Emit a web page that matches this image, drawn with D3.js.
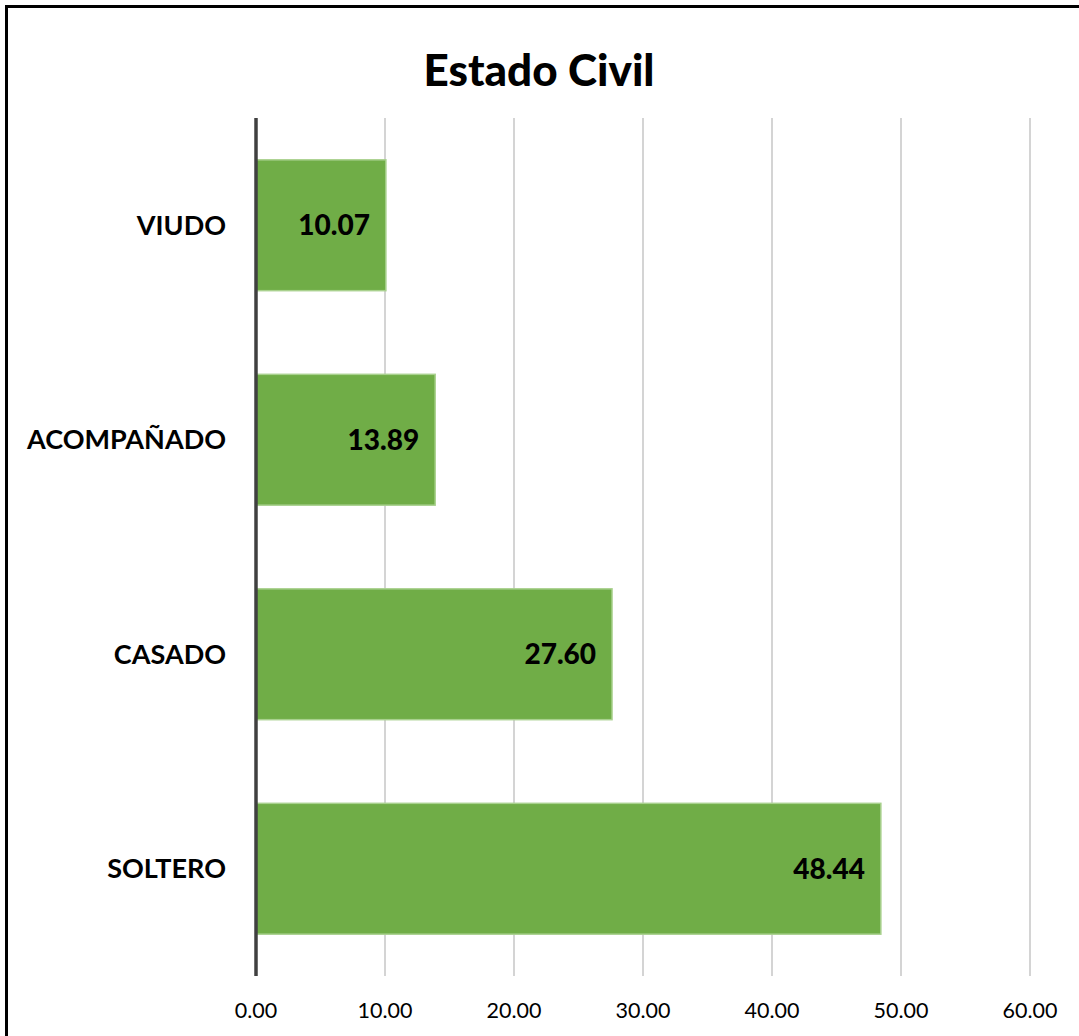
<!DOCTYPE html>
<html lang="es">
<head>
<meta charset="UTF-8">
<title>Estado Civil</title>
<script src="https://d3js.org/d3.v7.min.js"></script>
<style>
    body { margin: 0; background: white; font-family: Lato, "Open Sans", sans-serif; }
    svg { display: block; }
    .cat { font-size: 27px; font-weight: bold; fill: #000; }
    .val { font-size: 28px; font-weight: 900; fill: #000; }
    .tick-label { font-size: 21.5px; fill: #000; }
    .title { font-size: 44px; font-weight: 900; fill: #000; }
</style>
</head>
<body>
<svg width="1079" height="1036"></svg>
<script>
    // Chart data
    const categories = ["VIUDO", "ACOMPAÑADO", "CASADO", "SOLTERO"];
    const values = [10.07, 13.89, 27.60, 48.44];
    const xTicks = [0, 10, 20, 30, 40, 50, 60];

    const svg = d3.select("svg");
    const margin = { top: 118, left: 256, right: 49, bottom: 60 };
    const width = 1079 - margin.left - margin.right;
    const height = 976 - margin.top;

    // outer frame (runs past the right and bottom edges)
    svg.append("rect")
        .attr("x", 6.5).attr("y", 6.5)
        .attr("width", 1100).attr("height", 1100)
        .attr("fill", "none")
        .attr("stroke", "#000")
        .attr("stroke-width", 3);

    svg.append("text")
        .attr("class", "title")
        .attr("x", 539).attr("y", 86)
        .attr("text-anchor", "middle")
        .text("Estado Civil");

    const g = svg.append("g").attr("transform", `translate(${margin.left},${margin.top})`);

    const x = d3.scaleLinear().domain([0, 60]).range([0, width]);
    const y = d3.scaleBand().domain(categories).range([0, height]).paddingInner(0.39).paddingOuter(0.195);

    // vertical gridlines
    g.append("g")
        .selectAll("line")
        .data(xTicks.slice(1))
        .enter().append("line")
        .attr("x1", d => x(d)).attr("x2", d => x(d))
        .attr("y1", 0).attr("y2", height)
        .attr("stroke", "#c6c6c6")
        .attr("stroke-width", 1.5);

    // tick labels
    g.append("g")
        .selectAll("text")
        .data(xTicks)
        .enter().append("text")
        .attr("class", "tick-label")
        .attr("x", d => x(d))
        .attr("y", height + 42)
        .attr("text-anchor", "middle")
        .text(d => d3.format(".2f")(d));

    // bars
    g.append("g")
        .selectAll("rect")
        .data(values)
        .enter().append("rect")
        .attr("x", 0)
        .attr("y", (d, i) => y(categories[i]))
        .attr("width", d => x(d))
        .attr("height", y.bandwidth())
        .attr("fill", "#70ad47")
        .attr("stroke", "#a9d18e")
        .attr("stroke-width", 1.5);

    // value labels
    g.append("g")
        .selectAll("text")
        .data(values)
        .enter().append("text")
        .attr("class", "val")
        .attr("x", d => x(d) - 16)
        .attr("y", (d, i) => y(categories[i]) + y.bandwidth() / 2)
        .attr("dy", "0.36em")
        .attr("text-anchor", "end")
        .text(d => d3.format(".2f")(d));

    // category labels
    g.append("g")
        .selectAll("text")
        .data(categories)
        .enter().append("text")
        .attr("class", "cat")
        .attr("x", -30)
        .attr("y", d => y(d) + y.bandwidth() / 2)
        .attr("dy", "0.36em")
        .attr("text-anchor", "end")
        .text(d => d);

    // vertical axis line
    g.append("line")
        .attr("x1", 0).attr("x2", 0)
        .attr("y1", 0).attr("y2", height)
        .attr("stroke", "#404040")
        .attr("stroke-width", 3.5);
</script>
</body>
</html>
